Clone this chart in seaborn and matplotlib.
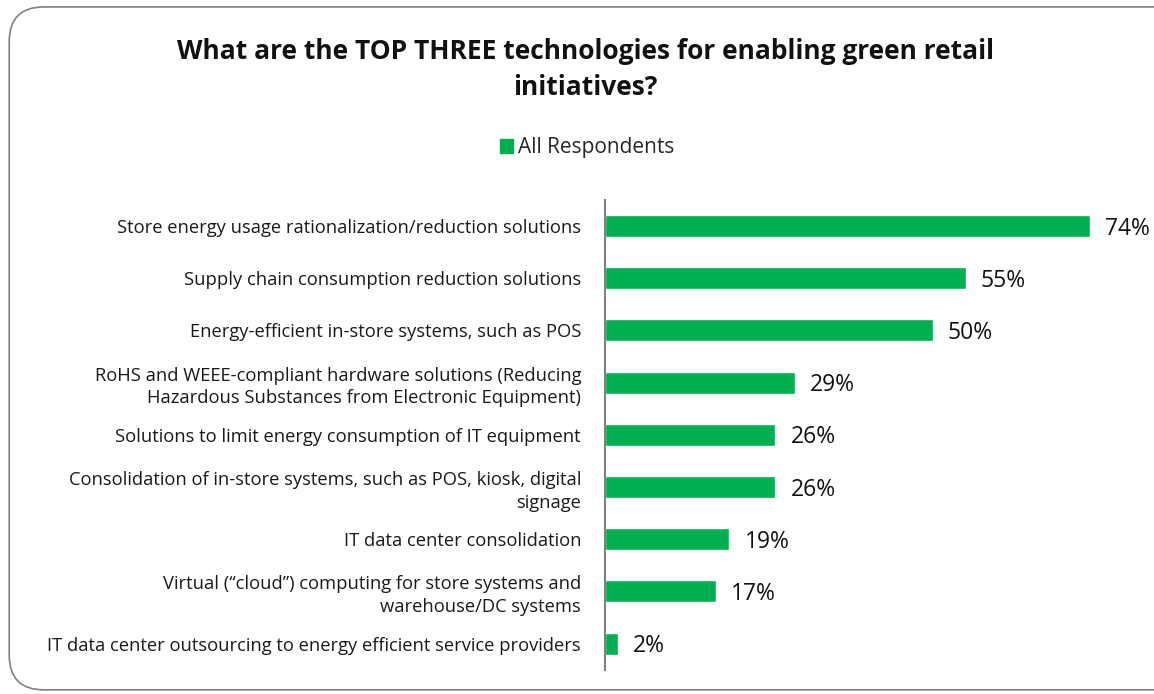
import matplotlib
matplotlib.use('Agg')
import matplotlib.pyplot as plt
import seaborn as sns
import pandas as pd
from matplotlib.patches import FancyBboxPatch, Patch

# 데이터
categories = [
    'Store energy usage rationalization/reduction solutions',
    'Supply chain consumption reduction solutions',
    'Energy-efficient in-store systems, such as POS',
    'RoHS and WEEE-compliant hardware solutions (Reducing\nHazardous Substances from Electronic Equipment)',
    'Solutions to limit energy consumption of IT equipment',
    'Consolidation of in-store systems, such as POS, kiosk, digital\nsignage',
    'IT data center consolidation',
    'Virtual (\u201ccloud\u201d) computing for store systems and\nwarehouse/DC systems',
    'IT data center outsourcing to energy efficient service providers',
]
values = [74, 55, 50, 29, 26, 26, 19, 17, 2]
series_name = 'All Respondents'
title = 'What are the TOP THREE technologies for enabling green retail\ninitiatives?'

green = '#00B050'

sns.set_theme(style='white')
plt.rcParams['font.family'] = ['Open Sans', 'DejaVu Sans']

df = pd.DataFrame({'category': categories, 'value': values})

fig = plt.figure(figsize=(11.54, 6.94), dpi=100)

# 둥근 테두리
frame = FancyBboxPatch((0.008, 0.006), 1.05, 0.984,
                       boxstyle='round,pad=0,rounding_size=0.03',
                       transform=fig.transFigure, facecolor='none',
                       edgecolor='#808080', linewidth=1.2, mutation_aspect=1154 / 694,
                       zorder=-1)
fig.patches.append(frame)

ax = fig.add_axes([0.524, 0.035, 0.455, 0.677])
sns.barplot(data=df, x='value', y='category', color=green, width=0.42,
            saturation=1, ax=ax, orient='h')

ax.set_xlim(0, 80)
ax.set_ylim(8.5, -0.5)
ax.set_xlabel('')
ax.set_ylabel('')
ax.set_xticks([])
ax.tick_params(axis='y', length=0, pad=17, labelsize=13.2, labelcolor='#1a1a1a')
for lbl in ax.get_yticklabels():
    lbl.set_horizontalalignment('right')
    lbl.set_multialignment('right')
    lbl.set_linespacing(1.35)
ax.set_facecolor('none')
for s in ['top', 'right', 'bottom']:
    ax.spines[s].set_visible(False)
ax.spines['left'].set_color('#808080')
ax.spines['left'].set_linewidth(1.5)

for i, v in enumerate(values):
    ax.text(v + 2.3, i + 0.05, f'{v}%', va='center', ha='left', fontsize=16.5, color='#111111')

fig.text(0.507, 0.900, title, ha='center', va='center', fontsize=19,
         fontweight='bold', color='#111111', linespacing=1.45)

fig.legend(handles=[Patch(color=green, label=series_name)], loc='center',
           bbox_to_anchor=(0.509, 0.787), frameon=False, fontsize=15,
           handlelength=0.6, handleheight=0.6, handletextpad=0.25)

fig.savefig('out.png', dpi=100)
